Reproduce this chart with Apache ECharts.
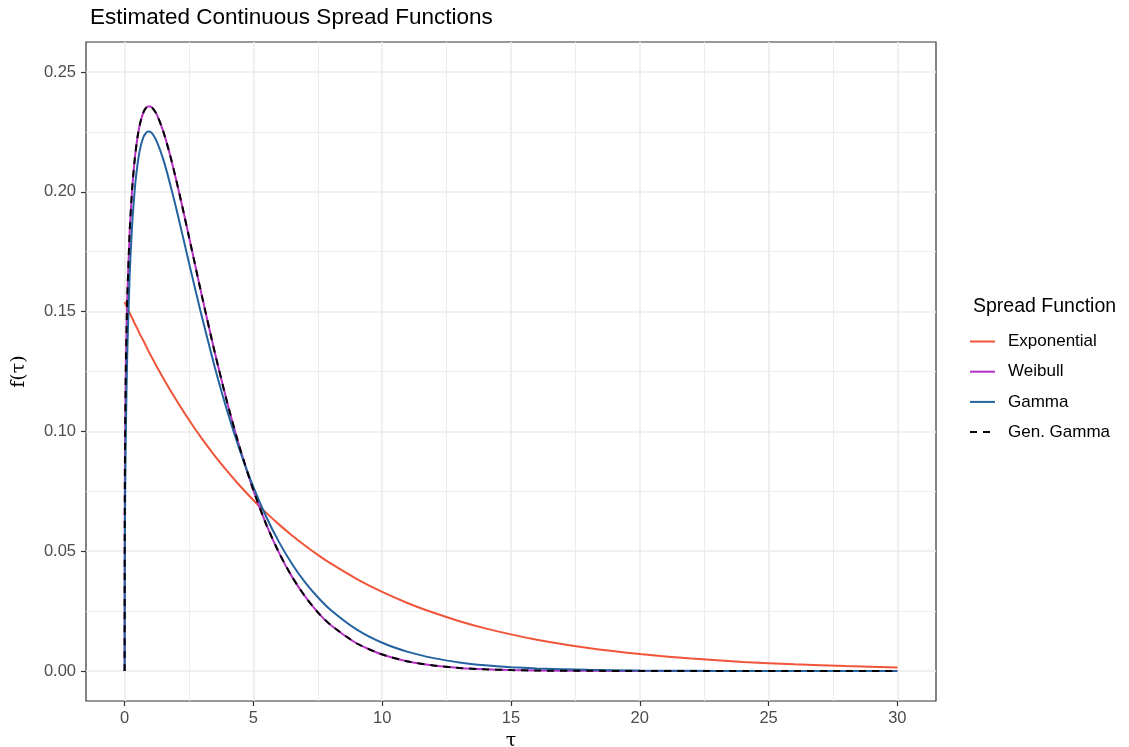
<!DOCTYPE html>
<html>
<head>
<meta charset="utf-8">
<script src="https://cdn.jsdelivr.net/npm/echarts@6/dist/echarts.min.js"></script>
<style>
  html, body { margin: 0; padding: 0; background: #fff; }
  #chart { width: 1129px; height: 747px; }
</style>
</head>
<body>
<div id="chart"></div>
<script>
var tau = [0, 0.005, 0.01, 0.02, 0.05, 0.1, 0.2, 0.3, 0.4, 0.5,
  0.6, 0.75, 0.9, 1, 1.1, 1.25, 1.5, 1.75, 2, 2.25,
  2.5, 2.75, 3, 3.5, 4, 4.5, 5, 5.5, 6, 6.5,
  7, 7.5, 8, 9, 10, 11, 12, 13, 14, 15,
  16, 18, 20, 22, 24, 26, 28, 30];

var expo = [0.1540, 0.1539, 0.1538, 0.1535, 0.1528, 0.1516, 0.1493, 0.1471, 0.1448, 0.1427,
  0.1404, 0.1374, 0.1341, 0.1320, 0.1300, 0.1270, 0.1222, 0.1176, 0.1132, 0.1089,
  0.1048, 0.1008, 0.0970, 0.0898, 0.0832, 0.0770, 0.0713, 0.0660, 0.0611, 0.0566,
  0.0524, 0.0485, 0.0449, 0.0385, 0.0330, 0.0283, 0.0243, 0.0208, 0.0178, 0.0153,
  0.0131, 0.0096, 0.0071, 0.0052, 0.0038, 0.0028, 0.0021, 0.0015];

var weibull = [0, 0.0682, 0.0827, 0.1000, 0.1286, 0.1549, 0.1845, 0.2024, 0.2144, 0.2228,
  0.2285, 0.2336, 0.2356, 0.2356, 0.2347, 0.2322, 0.2252, 0.2159, 0.2050, 0.1933,
  0.1811, 0.1688, 0.1565, 0.1329, 0.1113, 0.0921, 0.0754, 0.0611, 0.0492, 0.0393,
  0.0312, 0.0245, 0.0192, 0.0116, 0.0069, 0.0040, 0.0023, 0.0013, 0.0007, 0.0004,
  0.0002, 0.0001, 0, 0, 0, 0, 0, 0];

var gamma = [0, 0.0415, 0.0546, 0.0717, 0.1021, 0.1319, 0.1667, 0.1878, 0.2019, 0.2114,
  0.2179, 0.2233, 0.2252, 0.2250, 0.2239, 0.2209, 0.2135, 0.2039, 0.1932, 0.1818,
  0.1703, 0.1589, 0.1478, 0.1268, 0.1079, 0.0912, 0.0767, 0.0643, 0.0537, 0.0447,
  0.0371, 0.0308, 0.0255, 0.0174, 0.0118, 0.0080, 0.0054, 0.0036, 0.0024, 0.0016,
  0.0011, 0.0005, 0.0002, 0.0001, 0, 0, 0, 0];

var genGamma = [0, 0.0680, 0.0826, 0.1000, 0.1286, 0.1549, 0.1845, 0.2024, 0.2144, 0.2229,
  0.2286, 0.2337, 0.2357, 0.2357, 0.2347, 0.2323, 0.2252, 0.2159, 0.2050, 0.1933,
  0.1811, 0.1688, 0.1565, 0.1329, 0.1113, 0.0921, 0.0754, 0.0611, 0.0492, 0.0393,
  0.0312, 0.0245, 0.0192, 0.0116, 0.0069, 0.0040, 0.0023, 0.0013, 0.0007, 0.0004,
  0.0002, 0.0001, 0, 0, 0, 0, 0, 0];

var xTicks = [0, 5, 10, 15, 20, 25, 30];
var xMinor = [2.5, 7.5, 12.5, 17.5, 22.5, 27.5];
var yTicks = [0, 0.05, 0.10, 0.15, 0.20, 0.25];
var yMinor = [0.025, 0.075, 0.125, 0.175, 0.225];

function pairs(ys) {
  return tau.map(function (t, i) { return [t, ys[i]]; });
}

var chart = echarts.init(document.getElementById('chart'));

var sans = 'Liberation Sans, Arial, sans-serif';
var serif = 'DejaVu Serif, Liberation Serif, serif';

function curve(name, ys, color, dash) {
  return {
    name: name, type: 'line', data: pairs(ys),
    symbol: 'none', smooth: 0.2,
    color: color,
    lineStyle: { width: 2, color: color, type: dash || 'solid' }
  };
}

var option = {
  backgroundColor: '#fff',
  animation: false,
  title: [
    {
      text: 'Estimated Continuous Spread Functions',
      left: 85, top: 1,
      textStyle: { fontFamily: sans, fontSize: 22.5, fontWeight: 'normal', color: '#000' }
    },
    {
      text: 'Spread Function',
      left: 968, top: 292,
      textStyle: { fontFamily: sans, fontSize: 19.5, fontWeight: 'normal', color: '#000' }
    }
  ],
  legend: {
    orient: 'vertical',
    left: 964, top: 328,
    itemWidth: 25, itemHeight: 20, itemGap: 13.2,
    itemStyle: { opacity: 0 },
    textStyle: { fontFamily: sans, fontSize: 17, color: '#000', padding: [0, 0, 0, 8] },
    data: ['Exponential', 'Weibull', 'Gamma', 'Gen. Gamma']
  },
  grid: {
    left: 86, right: 193, top: 42, bottom: 46,
    outerBoundsMode: 'none', containLabel: false,
    show: true, borderColor: '#333', borderWidth: 1.2, backgroundColor: 'transparent'
  },
  xAxis: [
    {
      type: 'value', min: -1.5, max: 31.5, position: 'bottom',
      axisLine: { show: false, onZero: false },
      axisTick: { show: true, customValues: xTicks, length: 5, lineStyle: { color: '#333', width: 1.2 } },
      axisLabel: { customValues: xTicks, margin: 9, fontFamily: sans, fontSize: 16.5, color: '#4D4D4D' },
      splitLine: { show: true, lineStyle: { color: '#EBEBEB', width: 1.6 } },
      name: 'τ', nameLocation: 'middle', nameGap: 23,
      nameTextStyle: { fontFamily: serif, fontSize: 19, color: '#000' }
    },
    {
      type: 'value', min: -1.5, max: 31.5, position: 'top',
      axisLine: { show: false, onZero: false },
      axisTick: { show: false, customValues: xMinor },
      axisLabel: { show: false, customValues: xMinor },
      splitLine: { show: true, lineStyle: { color: '#EBEBEB', width: 0.9 } }
    }
  ],
  yAxis: [
    {
      type: 'value', min: -0.0125, max: 0.2625, position: 'left',
      axisLine: { show: false, onZero: false },
      axisTick: { show: true, customValues: yTicks, length: 5, lineStyle: { color: '#333', width: 1.2 } },
      axisLabel: {
        customValues: yTicks, margin: 10, fontFamily: sans, fontSize: 16.5, color: '#4D4D4D',
        formatter: function (v) { return v.toFixed(2); }
      },
      splitLine: { show: true, lineStyle: { color: '#EBEBEB', width: 1.6 } },
      name: 'f(τ)', nameLocation: 'middle', nameGap: 57, nameRotate: 90,
      nameTextStyle: { fontFamily: serif, fontSize: 19, color: '#000' }
    },
    {
      type: 'value', min: -0.0125, max: 0.2625, position: 'right',
      axisLine: { show: false, onZero: false },
      axisTick: { show: false, customValues: yMinor },
      axisLabel: { show: false, customValues: yMinor },
      splitLine: { show: true, lineStyle: { color: '#EBEBEB', width: 0.9 } }
    }
  ],
  series: [
    curve('Exponential', expo, '#F0553A'),
    curve('Weibull', weibull, '#B530C3'),
    curve('Gamma', gamma, '#2463A0'),
    curve('Gen. Gamma', genGamma, '#000', [7, 6])
  ]
};

chart.setOption(option);
</script>
</body>
</html>
